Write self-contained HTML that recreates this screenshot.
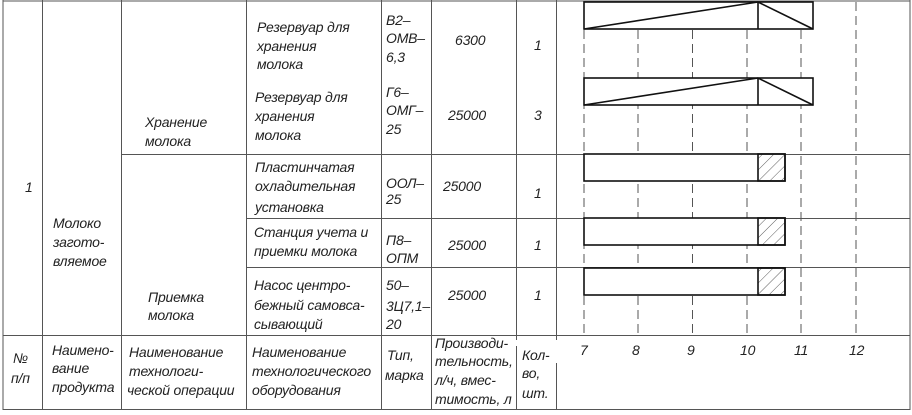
<!DOCTYPE html>
<html><head><meta charset="utf-8"><style>
html,body{margin:0;padding:0;background:#fff;width:912px;height:415px;overflow:hidden}
svg{display:block}
text{font-family:"Liberation Sans","DejaVu Sans",sans-serif;font-style:italic;font-size:14px;fill:#222;letter-spacing:-0.2px}
</style></head><body>
<svg width="912" height="415" viewBox="0 0 912 415" xmlns="http://www.w3.org/2000/svg">
<g stroke="#555" stroke-width="1" fill="none">
<line x1="3" y1="0" x2="3" y2="410"/>
<line x1="42.5" y1="0" x2="42.5" y2="410"/>
<line x1="121.5" y1="0" x2="121.5" y2="410"/>
<line x1="246.5" y1="0" x2="246.5" y2="410"/>
<line x1="381.5" y1="0" x2="381.5" y2="410"/>
<line x1="431.5" y1="0" x2="431.5" y2="410"/>
<line x1="516.5" y1="0" x2="516.5" y2="340"/>
<line x1="516.5" y1="346" x2="516.5" y2="410"/>
<line x1="556.5" y1="0" x2="556.5" y2="340"/>
<line x1="556.5" y1="363" x2="556.5" y2="410"/>
<line x1="910" y1="0" x2="910" y2="410"/>
<line x1="3" y1="1" x2="910" y2="1"/>
<line x1="121" y1="154.5" x2="910" y2="154.5"/>
<line x1="246" y1="218.5" x2="910" y2="218.5"/>
<line x1="246" y1="267.5" x2="910" y2="267.5"/>
<line x1="3" y1="335.5" x2="910" y2="335.5"/>
<line x1="3" y1="409.5" x2="910" y2="409.5"/>
</g>
<g stroke="#555" stroke-width="1" stroke-dasharray="9,5">
<line x1="584" y1="2" x2="584" y2="335"/>
<line x1="638" y1="2" x2="638" y2="335"/>
<line x1="692.5" y1="2" x2="692.5" y2="335"/>
<line x1="747" y1="2" x2="747" y2="335"/>
<line x1="801" y1="2" x2="801" y2="335"/>
<line x1="856" y1="2" x2="856" y2="335"/>
</g>
<defs><pattern id="h" width="8" height="8" patternUnits="userSpaceOnUse" patternTransform="rotate(45)"><line x1="0" y1="0" x2="0" y2="8" stroke="#333" stroke-width="0.8"/></pattern></defs>
<g stroke="#111" stroke-width="1.6" fill="#fff">
<rect x="584" y="2" width="229" height="27"/>
<line x1="758" y1="2" x2="758" y2="29"/>
<line x1="584" y1="29" x2="758" y2="2"/>
<line x1="758" y1="2" x2="813" y2="29"/>
<rect x="584" y="78" width="229" height="27"/>
<line x1="758" y1="78" x2="758" y2="105"/>
<line x1="584" y1="105" x2="758" y2="78"/>
<line x1="758" y1="78" x2="813" y2="105"/>
<rect x="584" y="154" width="201" height="27"/>
<rect x="758" y="154" width="27" height="27" fill="url(#h)"/>
<rect x="584" y="218" width="201" height="27"/>
<rect x="758" y="218" width="27" height="27" fill="url(#h)"/>
<rect x="584" y="268" width="201" height="27"/>
<rect x="758" y="268" width="27" height="27" fill="url(#h)"/>
</g>
<g>
<text x="257" y="32">Резервуар для</text><text x="257" y="51">хранения</text><text x="257" y="69">молока</text>
<text x="255" y="102">Резервуар для</text><text x="255" y="121">хранения</text><text x="255" y="140">молока</text>
<text x="386" y="25">В2–</text><text x="386" y="43">ОМВ–</text><text x="386" y="62">6,3</text>
<text x="386" y="97">Г6–</text><text x="386" y="115">ОМГ–</text><text x="386" y="134">25</text>
<text x="455" y="45">6300</text><text x="448" y="120">25000</text>
<text x="534" y="50">1</text><text x="534" y="120">3</text>
<text x="145" y="127">Хранение</text><text x="145" y="146">молока</text>
<text x="25" y="192">1</text>
<text x="53" y="228">Молоко</text><text x="53" y="247">загото-</text><text x="53" y="266">вляемое</text>
<text x="255" y="172">Пластинчатая</text><text x="255" y="191">охладительная</text><text x="255" y="212">установка</text>
<text x="386" y="188">ООЛ–</text><text x="386" y="204">25</text>
<text x="443" y="191">25000</text><text x="534" y="198">1</text>
<text x="254" y="237">Станция учета и</text><text x="254" y="256">приемки молока</text>
<text x="386" y="245">П8–</text><text x="386" y="263">ОПМ</text>
<text x="448" y="250">25000</text><text x="534" y="250">1</text>
<text x="254" y="290">Насос центро-</text><text x="254" y="310">бежный самовса-</text><text x="254" y="329">сывающий</text>
<text x="386" y="290">50–</text><text x="386" y="311">3Ц7,1–</text><text x="386" y="329">20</text>
<text x="448" y="300">25000</text><text x="534" y="300">1</text>
<text x="148" y="302">Приемка</text><text x="148" y="320">молока</text>
<text x="13" y="363">№</text><text x="11" y="383">п/п</text>
<text x="52" y="355">Наимено-</text><text x="52" y="373">вание</text><text x="52" y="392">продукта</text>
<text x="129" y="357">Наименование</text><text x="129" y="376">технологи-</text><text x="127" y="395">ческой операции</text>
<text x="252" y="357">Наименование</text><text x="252" y="376">технологического</text><text x="252" y="395">оборудования</text>
<text x="387" y="360">Тип,</text><text x="385" y="380">марка</text>
<text x="435" y="348">Производи-</text><text x="435" y="366">тельность,</text><text x="435" y="385">л/ч, вмес-</text><text x="435" y="404">тимость, л</text>
<text x="522" y="360">Кол-</text><text x="522" y="378">во,</text><text x="522" y="398">шт.</text>
<text x="580" y="355">7</text><text x="632" y="355">8</text><text x="687" y="355">9</text><text x="740" y="355">10</text><text x="794" y="355">11</text><text x="849" y="355">12</text>
</g>
</svg>
</body></html>
